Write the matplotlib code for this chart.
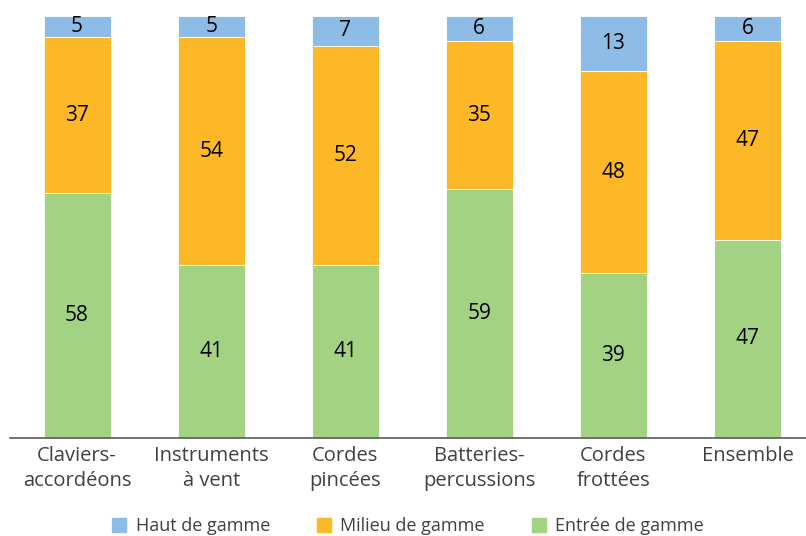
import matplotlib
matplotlib.use("Agg")
import matplotlib.pyplot as plt
from matplotlib.patches import Patch

categories = ["Claviers-\naccordéons", "Instruments\nà vent", "Cordes\npincées",
              "Batteries-\npercussions", "Cordes\nfrottées", "Ensemble"]
entree = [58, 41, 41, 59, 39, 47]
milieu = [37, 54, 52, 35, 48, 47]
haut = [5, 5, 7, 6, 13, 6]
series_names = ["Haut de gamme", "Milieu de gamme", "Entrée de gamme"]

c_haut = "#8DBDE6"
c_milieu = "#FDB827"
c_entree = "#A3D283"

plt.rcParams['font.family'] = ['Open Sans', 'DejaVu Sans']

fig = plt.figure(figsize=(8.06, 5.36), dpi=100)
ax = fig.add_axes([10/806, (536-438)/536, (806-10)/806, (438-16)/536])

x = list(range(len(categories)))
w = 0.5
ax.bar(x, entree, w, color=c_entree, edgecolor="#ffffff", linewidth=0.6)
ax.bar(x, milieu, w, bottom=entree, color=c_milieu, edgecolor="#ffffff", linewidth=0.6)
bot3 = [a + b for a, b in zip(entree, milieu)]
ax.bar(x, haut, w, bottom=bot3, color=c_haut, edgecolor="#ffffff", linewidth=0.6)

vfs = 15
for i in x:
    ax.text(i, entree[i] / 2, str(entree[i]), ha="center", va="center", fontsize=vfs, color="#000000")
    ax.text(i, entree[i] + milieu[i] / 2, str(milieu[i]), ha="center", va="center", fontsize=vfs, color="#000000")
    ax.text(i, bot3[i] + haut[i] / 2, str(haut[i]), ha="center", va="center", fontsize=vfs, color="#000000")

ax.set_xlim(-0.5, (806 - 77.5) / 134)
ax.set_ylim(0, 100)
ax.set_yticks([])
ax.set_xticks(x)
ax.set_xticklabels(categories, fontsize=14.5, color="#404040", linespacing=1.3)
ax.tick_params(axis="x", length=0, pad=6)
for s in ["top", "right", "left"]:
    ax.spines[s].set_visible(False)
ax.spines["bottom"].set_color("#595959")
ax.spines["bottom"].set_linewidth(1.2)

handles = [Patch(color=c_haut), Patch(color=c_milieu), Patch(color=c_entree)]
fig.legend(handles, series_names, loc="center", bbox_to_anchor=(408/806, 1 - 526/536),
           ncol=3, frameon=False, fontsize=13, handlelength=0.8, handleheight=0.8,
           columnspacing=2.6, handletextpad=0.5, labelcolor="#404040",
           borderpad=0.1)

fig.savefig("out.png", dpi=100)
